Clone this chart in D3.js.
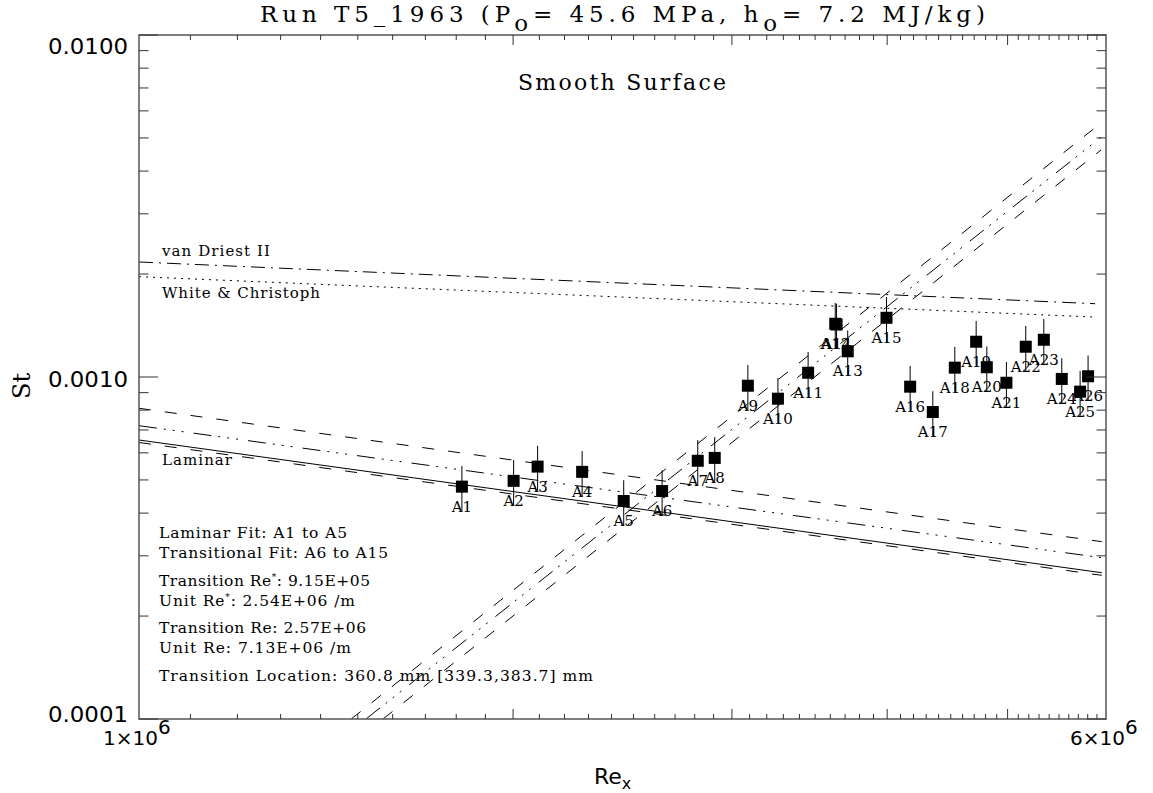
<!DOCTYPE html>
<html>
<head>
<meta charset="utf-8">
<script src="https://cdn.jsdelivr.net/npm/d3@7"></script>
<style>
  body { margin: 0; background: #fff; }
  svg { display: block; }
</style>
</head>
<body>
<svg id="chart" width="1153" height="793"></svg>
<script>
// Gauge labels, Reynolds number and measured Stanton number
const gaugeLabels = ["A1","A2","A3","A4","A5","A6","A7","A8","A9","A10","A11","A12","A13",
                     "A14","A15","A16","A17","A18","A19","A20","A21","A22","A23","A24","A25","A26"];
const reX = [1.819e6, 2.002e6, 2.093e6, 2.273e6, 2.455e6, 2.636e6, 2.816e6, 2.906e6, 3.090e6,
             3.267e6, 3.455e6, 3.633e6, 3.718e6, 3.642e6, 3.995e6, 4.174e6, 4.353e6, 4.534e6,
             4.717e6, 4.811e6, 4.989e6, 5.171e6, 5.347e6, 5.528e6, 5.719e6, 5.804e6];
const stanton = [4.78e-4, 4.97e-4, 5.47e-4, 5.28e-4, 4.34e-4, 4.64e-4, 5.69e-4, 5.80e-4, 9.43e-4,
                 8.64e-4, 1.029e-3, 1.431e-3, 1.189e-3, 1.424e-3, 1.490e-3, 9.37e-4, 7.90e-4, 1.065e-3,
                 1.268e-3, 1.068e-3, 9.62e-4, 1.226e-3, 1.285e-3, 9.87e-4, 9.06e-4, 1.005e-3];
const stUncertainty = 0.15;   // +/- 15 %

// Correlations and fits (power laws, end points in Re / St)
const vanDriestRe = [1.0e6, 5.88e6];
const vanDriestSt = [2.169e-3, 1.638e-3];
const whiteRe     = [1.0e6, 5.88e6];
const whiteSt     = [1.965e-3, 1.497e-3];
const laminarRe   = [1.0e6, 5.953e6];
const laminarSt   = [6.543e-4, 2.678e-4];
const lamFitRe    = [1.0e6, 5.953e6];
const lamFitSt    = [7.205e-4, 2.962e-4];
const lamFitHiSt  = [8.101e-4, 3.300e-4];
const lamFitLoSt  = [6.434e-4, 2.631e-4];
const transFitRe   = [1.5229e6, 5.945e6];
const transFitSt   = [1.0e-4, 5.022e-3];
const transFitHiRe = [1.4817e6, 5.945e6];
const transFitHiSt = [1.0e-4, 5.531e-3];
const transFitLoRe = [1.5717e6, 5.945e6];
const transFitLoSt = [1.0e-4, 4.611e-3];

// Axis tick labels
const yTickValues = [1e-4, 1e-3, 1e-2];
const yTickLabels = ["0.0001", "0.0010", "0.0100"];
const xTickValues = [1e6, 6e6];
const xTickMantissa = ["1", "6"];
const xTickExponent = ["6", "6"];

// Notes printed inside the plot
const fitNotes = [
  ["Laminar Fit: A1 to A5"],
  ["Transitional Fit: A6 to A15"],
  ["Transition Re", "*", ": 9.15E+05"],
  ["Unit Re", "*", ": 2.54E+06 /m"],
  ["Transition Re: 2.57E+06"],
  ["Unit Re: 7.13E+06 /m"],
  ["Transition Location: 360.8 mm  [339.3,383.7] mm"]
];

(function draw() {
  const svg = d3.select("#chart");
  const pL = 139, pR = 1106, pT = 35, pB = 719;
  const x = d3.scaleLog().domain([1e6, 6e6]).range([pL, pR]);
  const y = d3.scaleLog().domain([1e-4, 1e-2]).range([pB, pT]);

  const serif = "'DejaVu Serif', serif";
  const sans = "'DejaVu Sans', sans-serif";

  svg.append("defs").append("clipPath").attr("id", "plotClip")
    .append("rect").attr("x", pL).attr("y", pT).attr("width", pR - pL).attr("height", pB - pT);

  const plot = svg.append("g").attr("clip-path", "url(#plotClip)");

  // Reference curves
  const line = d3.line().x(d => x(d[0])).y(d => y(d[1]));
  const curves = [
    { re: vanDriestRe, st: vanDriestSt, dash: "14,6,2,6" },
    { re: whiteRe, st: whiteSt, dash: "2,5" },
    { re: laminarRe, st: laminarSt, dash: null },
    { re: lamFitRe, st: lamFitSt, dash: "18,7,2,7,2,7,2,10" },
    { re: lamFitRe, st: lamFitHiSt, dash: "12,14" },
    { re: lamFitRe, st: lamFitLoSt, dash: "12,14" },
    { re: transFitRe, st: transFitSt, dash: "18,7,2,7,2,7,2,10" },
    { re: transFitHiRe, st: transFitHiSt, dash: "12,14" },
    { re: transFitLoRe, st: transFitLoSt, dash: "12,14" }
  ];
  plot.selectAll("path.curve").data(curves).join("path")
    .attr("class", "curve")
    .attr("d", c => line(d3.zip(c.re, c.st)))
    .attr("fill", "none")
    .attr("stroke", "#000")
    .attr("stroke-width", 1)
    .attr("stroke-dasharray", c => c.dash);

  // Curve names
  const curveNames = [
    { text: "van Driest II", y: 256, w: 108 },
    { text: "White & Christoph", y: 298, w: 158 },
    { text: "Laminar", y: 465, w: 70 }
  ];
  svg.selectAll("text.curveName").data(curveNames).join("text")
    .attr("class", "curveName")
    .attr("x", 162).attr("y", d => d.y)
    .attr("font-family", serif).attr("font-size", 15)
    .attr("textLength", d => d.w).attr("lengthAdjust", "spacing")
    .text(d => d.text);

  // Measurements
  const points = gaugeLabels.map((g, i) => ({ label: g, re: reX[i], st: stanton[i] }));
  const pts = svg.append("g");
  pts.selectAll("text").data(points).join("text")
    .attr("x", d => x(d.re)).attr("y", d => y(d.st) + 25)
    .attr("text-anchor", "middle")
    .attr("font-family", serif).attr("font-size", 15)
    .text(d => d.label);
  pts.selectAll("line").data(points).join("line")
    .attr("x1", d => x(d.re)).attr("x2", d => x(d.re))
    .attr("y1", d => y(d.st * (1 + stUncertainty)))
    .attr("y2", d => y(d.st * (1 - stUncertainty)))
    .attr("stroke", "#000").attr("stroke-width", 1);
  pts.selectAll("rect").data(points).join("rect")
    .attr("x", d => x(d.re) - 6).attr("y", d => y(d.st) - 6)
    .attr("width", 12).attr("height", 12)
    .attr("fill", "#000");

  // Frame and ticks
  svg.append("rect").attr("x", pL).attr("y", pT)
    .attr("width", pR - pL).attr("height", pB - pT)
    .attr("fill", "none").attr("stroke", "#555").attr("stroke-width", 1.5);

  const ticks = svg.append("g").attr("stroke", "#333").attr("stroke-width", 1);
  y.ticks().forEach(v => {
    const major = Math.abs(Math.log10(v) - Math.round(Math.log10(v))) < 1e-9;
    const len = major ? 19 : 9.5;
    const yy = y(v);
    ticks.append("line").attr("x1", pL).attr("x2", pL + len).attr("y1", yy).attr("y2", yy);
    ticks.append("line").attr("x1", pR - len).attr("x2", pR).attr("y1", yy).attr("y2", yy);
  });
  d3.range(11, 60).map(k => k * 1e5).forEach(v => {
    const len = (Math.round(v / 1e5) % 10 === 0) ? 10 : 5;
    const xx = x(v);
    ticks.append("line").attr("x1", xx).attr("x2", xx).attr("y1", pB).attr("y2", pB - len);
    ticks.append("line").attr("x1", xx).attr("x2", xx).attr("y1", pT).attr("y2", pT + len);
  });

  // Y tick labels
  svg.selectAll("text.ylab").data(yTickValues).join("text")
    .attr("class", "ylab")
    .attr("x", 128)
    .attr("y", v => Math.min(Math.max(y(v) + 2.5, pT + 11), pB - 5))
    .attr("dy", "0.36em")
    .attr("text-anchor", "end")
    .attr("font-family", sans).attr("font-size", 21)
    .attr("textLength", 80).attr("lengthAdjust", "spacingAndGlyphs")
    .text((v, i) => yTickLabels[i]);

  // X tick labels (mantissa x 10 with exponent)
  xTickValues.forEach((v, i) => {
    const t = svg.append("text")
      .attr("x", x(v) - 36).attr("y", 745)
      .attr("font-family", sans).attr("font-size", 20);
    t.append("tspan").text(xTickMantissa[i] + "\u00d710");
    t.append("tspan").attr("dy", -11).text(xTickExponent[i]);
  });

  // Axis titles
  const xt = svg.append("text").attr("x", 594).attr("y", 784)
    .attr("font-family", sans).attr("font-size", 22);
  xt.append("tspan").text("Re");
  xt.append("tspan").attr("dy", 5).attr("font-size", 16).text("x");

  svg.append("text")
    .attr("transform", "translate(30,386) rotate(-90)")
    .attr("text-anchor", "middle")
    .attr("font-family", serif).attr("font-size", 24)
    .text("St");

  // Title
  const title = svg.append("text").attr("x", 260).attr("y", 22)
    .attr("font-family", serif).attr("font-size", 23)
    .attr("textLength", 725).attr("lengthAdjust", "spacing");
  title.append("tspan").text("Run T5_1963 (P");
  title.append("tspan").attr("dy", 9).text("o");
  title.append("tspan").attr("dy", -9).text("= 45.6 MPa, h");
  title.append("tspan").attr("dy", 9).text("o");
  title.append("tspan").attr("dy", -9).text("= 7.2 MJ/kg)");

  svg.append("text").attr("x", 518).attr("y", 90)
    .attr("font-family", serif).attr("font-size", 22)
    .attr("textLength", 208).attr("lengthAdjust", "spacing")
    .text("Smooth Surface");

  // Fit summary block
  const noteBaselines = [538, 558, 585.5, 605.5, 633, 653, 681];
  const noteWidths = [188, 229, 211, 196, 207, 192, 434];
  fitNotes.forEach((parts, i) => {
    const t = svg.append("text").attr("x", 159).attr("y", noteBaselines[i])
      .attr("font-family", serif).attr("font-size", 15.5)
      .attr("textLength", noteWidths[i]).attr("lengthAdjust", "spacing");
    if (parts.length === 1) {
      t.text(parts[0]);
    } else {
      t.append("tspan").text(parts[0]);
      t.append("tspan").attr("dy", -6).attr("font-size", 9).text(parts[1]);
      t.append("tspan").attr("dy", 6).text(parts[2]);
    }
  });
})();
</script>
</body>
</html>
